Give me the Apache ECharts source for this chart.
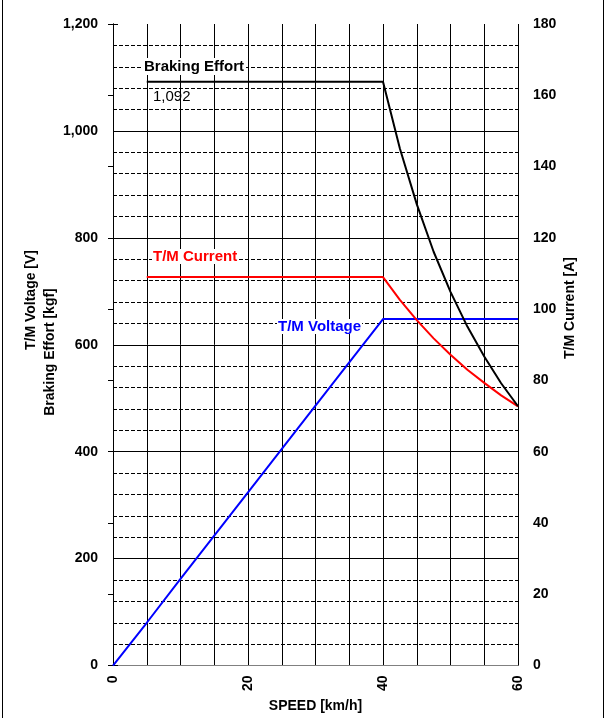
<!DOCTYPE html>
<html><head><meta charset="utf-8">
<script src="https://cdn.jsdelivr.net/npm/echarts@6/dist/echarts.min.js"></script>
<style>html,body{margin:0;padding:0;background:#fff}#c{width:607px;height:718px}</style>
</head><body><div id="c"></div>
<script>
// Data (speed in km/h)
var speedTicks = [0, 20, 40, 60];
var brakingSpeed = [5, 40, 42.5, 45, 47.5, 50, 52.5, 55, 57.5, 60];
var brakingEffort = [1092, 1092, 967, 863, 774, 699, 634, 578, 528, 485];      // kgf
var currentSpeed = [5, 40, 42.5, 45, 47.5, 50, 52.5, 55, 57.5, 60];
var tmCurrent = [109, 109, 102.6, 96.9, 91.8, 87.2, 83.0, 79.3, 75.8, 72.7];   // A
var voltageSpeed = [0, 5, 10, 20, 30, 40, 50, 60];
var tmVoltage = [0, 80, 162, 324, 486, 648, 648, 648];                          // V

function pairs(xs, ys){ return xs.map(function(x,i){ return [x, ys[i]]; }); }
var FONT = '"Liberation Sans", Arial, sans-serif';
var chart = echarts.init(document.getElementById('c'), null, {renderer:'canvas'});
chart.setOption({
  animation:false,
  backgroundColor:'#fff',
  grid:{left:113, top:24, right:89, bottom:52, containLabel:false},
  xAxis:[{
    type:'value', min:0, max:60, interval:5,
    axisLine:{show:true, lineStyle:{color:'#000', width:1}},
    axisTick:{show:false},
    axisLabel:{rotate:90, margin:10, color:'#000', fontFamily:FONT, fontSize:14, fontWeight:'bold',
      formatter:function(v){ return speedTicks.indexOf(v) >= 0 ? String(v) : ''; }},
    splitLine:{show:true, lineStyle:{color:'#000', width:1, type:'solid'}},
    name:'SPEED [km/h]', nameLocation:'middle', nameGap:32,
    nameTextStyle:{color:'#000', fontFamily:FONT, fontSize:14, fontWeight:'bold'}
  },{
    type:'value', min:0, max:60, position:'top',
    axisLine:{show:true, lineStyle:{color:'#808080', width:1}},
    axisTick:{show:false}, axisLabel:{show:false}, splitLine:{show:false}
  }],
  yAxis:[{
    type:'value', min:0, max:1200, interval:200, position:'left',
    axisLine:{show:true, lineStyle:{color:'#000', width:1}},
    axisTick:{show:true, inside:true, length:5, lineStyle:{color:'#000'}},
    axisLabel:{margin:15, color:'#000', fontFamily:FONT, fontSize:14, fontWeight:'bold',
      formatter:function(v){ return v.toLocaleString('en-US'); }},
    splitLine:{show:true, showMaxLine:false, lineStyle:{color:'#000', width:1, type:'solid'}},
    minorTick:{show:false, splitNumber:5},
    minorSplitLine:{show:true, lineStyle:{color:'#000', width:1, type:[4,2]}}
  },{
    type:'value', min:0, max:180, interval:20, position:'right',
    axisLine:{show:true, lineStyle:{color:'#000', width:1}},
    axisTick:{show:true, inside:true, length:5, lineStyle:{color:'#000'}},
    axisLabel:{margin:15, color:'#000', fontFamily:FONT, fontSize:14, fontWeight:'bold'},
    splitLine:{show:false}
  }],
  series:[
    {type:'line', xAxisIndex:0, yAxisIndex:0, data:pairs(brakingSpeed, brakingEffort), showSymbol:false,
      lineStyle:{color:'#000', width:2}, z:5},
    {type:'line', xAxisIndex:0, yAxisIndex:1, data:pairs(currentSpeed, tmCurrent), showSymbol:false,
      lineStyle:{color:'#ff0000', width:2}, z:4},
    {type:'line', xAxisIndex:0, yAxisIndex:0, data:pairs(voltageSpeed, tmVoltage), showSymbol:false,
      lineStyle:{color:'#0000ff', width:2}, z:3}
  ],
  graphic:[
    {type:'rect', shape:{x:2.5, y:-2, width:601, height:730}, style:{fill:null, stroke:'#000', lineWidth:1}, silent:true},
    {type:'text', left:142, top:58, z:100, style:{text:'Braking Effort', fill:'#000', font:'bold 15px '+FONT,
      backgroundColor:'#fff', padding:[1,2,1,2]}},
    {type:'text', left:153, top:89, z:100, style:{text:'1,092', fill:'#000', font:'15px '+FONT}},
    {type:'text', left:152, top:249, z:100, style:{text:'T/M Current', fill:'#ff0000', font:'bold 15px '+FONT,
      backgroundColor:'#fff', padding:[0,1,0,1]}},
    {type:'text', left:277, top:319, z:100, style:{text:'T/M Voltage', fill:'#0000ff', font:'bold 15px '+FONT,
      backgroundColor:'#fff', padding:[0,1,0,1]}},
    {type:'text', x:31, y:300, rotation:Math.PI/2, z:100,
      style:{text:'T/M Voltage [V]', fill:'#000', font:'bold 14px '+FONT, align:'center', verticalAlign:'middle'}},
    {type:'text', x:50, y:352, rotation:Math.PI/2, z:100,
      style:{text:'Braking Effort [kgf]', fill:'#000', font:'bold 14px '+FONT, align:'center', verticalAlign:'middle'}},
    {type:'text', x:570, y:308, rotation:Math.PI/2, z:100,
      style:{text:'T/M Current [A]', fill:'#000', font:'bold 14px '+FONT, align:'center', verticalAlign:'middle'}}
  ]
});
</script></body></html>
